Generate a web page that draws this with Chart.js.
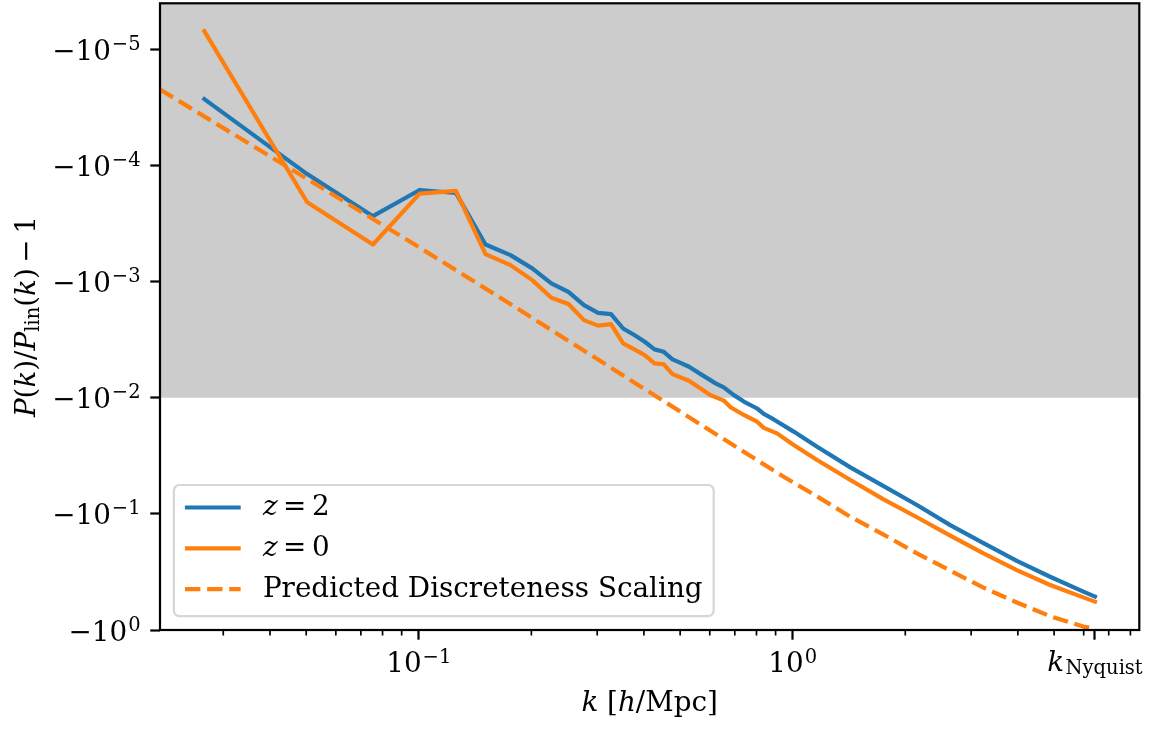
<!DOCTYPE html>
<html><head><meta charset="utf-8">
<script src="https://cdn.jsdelivr.net/npm/chart.js@4.4.1/dist/chart.umd.min.js"></script>
<style>html,body{margin:0;padding:0;background:#fff;overflow:hidden}canvas{display:block}</style>
</head><body>
<canvas id="c" width="1153" height="729" style="width:1153px;height:729px"></canvas>
<script>
// ---------------- data ----------------
const kZ2 = [0.0267,0.0503,0.0754,0.1005,0.1257,0.1508,0.1759,0.2011,0.2262,0.2513,0.2765,0.3016,0.3267,0.3519,0.377,0.402,0.427,0.452,0.477,0.503,0.528,0.573,0.622,0.654,0.696,0.740,0.803,0.837,0.890,1.006,1.162,1.426,1.750,2.149,2.638,3.237,3.975,4.879,5.987,6.43];
const ratioZ2 = [-2.69e-5,-1.19e-4,-2.74e-4,-1.63e-4,-1.73e-4,-4.80e-4,-5.93e-4,-7.71e-4,-1.04e-3,-1.23e-3,-1.60e-3,-1.86e-3,-1.91e-3,-2.54e-3,-2.89e-3,-3.30e-3,-3.84e-3,-4.03e-3,-4.68e-3,-5.04e-3,-5.42e-3,-6.40e-3,-7.53e-3,-8.15e-3,-9.51e-3,-1.08e-2,-1.24e-2,-1.38e-2,-1.54e-2,-1.96e-2,-2.65e-2,-3.98e-2,-5.77e-2,-8.39e-2,-0.125,-0.179,-0.254,-0.348,-0.468,-0.516];

const kZ0 = [0.0267,0.0503,0.0754,0.1005,0.1257,0.1508,0.1759,0.2011,0.2262,0.2513,0.2765,0.3016,0.3267,0.3519,0.377,0.402,0.427,0.452,0.477,0.528,0.603,0.654,0.682,0.740,0.803,0.837,0.908,1.006,1.162,1.426,1.750,2.149,2.638,3.237,3.975,4.879,5.987,6.43];
const ratioZ0 = [-7.00e-6,-2.08e-4,-4.80e-4,-1.75e-4,-1.66e-4,-5.81e-4,-7.23e-4,-9.73e-4,-1.38e-3,-1.56e-3,-2.15e-3,-2.40e-3,-2.33e-3,-3.41e-3,-3.84e-3,-4.30e-3,-5.07e-3,-5.16e-3,-6.27e-3,-7.16e-3,-9.51e-3,-1.06e-2,-1.21e-2,-1.41e-2,-1.61e-2,-1.82e-2,-2.03e-2,-2.56e-2,-3.44e-2,-5.12e-2,-7.50e-2,-0.107,-0.154,-0.219,-0.305,-0.410,-0.524,-0.570];

const kPred = [0.0203,0.0896,0.164,0.771,0.946,1.162,1.426,1.750,2.149,2.638,3.237,3.975,4.879,5.987,6.43];
const ratioPred = [-2.22e-5,-4.06e-4,-1.36e-3,-3.18e-2,-4.80e-2,-7.08e-2,-0.106,-0.151,-0.219,-0.308,-0.432,-0.580,-0.760,-0.935,-0.973];

const seriesLabels = ['z = 2', 'z = 0', 'Predicted Discreteness Scaling'];
const shadeLevel = -1e-2;            // shaded band: from the top of the axis down to -10^-2
const kNyquist = 6.43;
const xRange = [0.02032, 8.45];
const yRange = [-4.03e-6, -1];       // top, bottom of the (negative) y axis
const yTickValues = [-1e-5, -1e-4, -1e-3, -1e-2, -1e-1, -1e0];
const yTickExponents = [-5, -4, -3, -2, -1, 0];
const xMajorTicks = [0.1, 1, kNyquist];
const xMajorLabels = ['10^-1', '10^0', 'k_Nyquist'];
const xMinorTicks = [0.03,0.04,0.05,0.06,0.07,0.08,0.09,0.2,0.3,0.4,0.5,0.6,0.7,0.8,0.9,2,3,4,5,6,7,8];

// ---------------- styling ----------------
const BLUE = '#1f77b4', ORANGE = '#ff7f0e';
const FS = 27.8, SFS = 19.5;
const SERIF = '"DejaVu Serif", "Liberation Serif", serif';
const LW = 4.2;
function font(sz, it){ return (it ? 'italic ' : '') + sz + 'px ' + SERIF; }
function richWidth(ctx, parts){
  let w = 0;
  for (const p of parts){ ctx.font = font(p.s || FS, p.i); w += ctx.measureText(p.t).width + (p.gap || 0); }
  return w;
}
function drawRich(ctx, parts, x, y, align){
  const w = richWidth(ctx, parts);
  let cx = align === 'right' ? x - w : (align === 'center' ? x - w / 2 : x);
  ctx.textAlign = 'left'; ctx.textBaseline = 'alphabetic';
  for (const p of parts){
    ctx.font = font(p.s || FS, p.i);
    ctx.fillText(p.t, cx, y + (p.dy || 0));
    cx += ctx.measureText(p.t).width + (p.gap || 0);
  }
  return w;
}
function supStr(e){ return e < 0 ? '\u2212' + (-e) : String(e); }
function xLabelParts(s){
  if (s.startsWith('10^')) return [{t:'10', gap:1},{t:supStr(parseInt(s.slice(3))), s:SFS, dy:-9.5}];
  if (s.startsWith('k_')) return [{t:'k', i:true, gap:1.5},{t:s.slice(2), s:SFS, dy:3}];
  return [{t:s}];
}
function legendParts(s){
  const m = s.match(/^z = (.*)$/);
  if (m) return [{t:'z', i:true},{t:'\u2009=\u2009'},{t:m[1]}];
  return [{t:s}];
}
const mag = v => -v;

const decor = {
  id: 'decor',
  afterDraw(chart){
    const ctx = chart.ctx, a = chart.chartArea;
    const xs = chart.scales.x, ys = chart.scales.y;
    ctx.save();
    // frame (spines)
    ctx.strokeStyle = '#000'; ctx.lineWidth = 2.2;
    ctx.strokeRect(a.left, a.top, a.right - a.left, a.bottom - a.top);
    // minor x ticks
    ctx.lineWidth = 1.67;
    ctx.beginPath();
    for (const v of xMinorTicks){
      if (v < xRange[0] || v > xRange[1]) continue;
      const px = xs.getPixelForValue(v);
      ctx.moveTo(px, a.bottom); ctx.lineTo(px, a.bottom + 5.6);
    }
    ctx.stroke();
    ctx.fillStyle = '#000';
    // y tick labels
    yTickValues.forEach((v, i) => {
      const py = ys.getPixelForValue(mag(v));
      drawRich(ctx, [{t:'\u221210', gap:1},{t:supStr(yTickExponents[i]), s:SFS, dy:-10}], a.left - 19.4, py + 10.5, 'right');
    });
    // x tick labels
    xMajorTicks.forEach((v, i) => {
      const px = xs.getPixelForValue(v);
      const lab = xMajorLabels[i];
      drawRich(ctx, xLabelParts(lab), px, lab.startsWith('k_') ? a.bottom + 40.5 : a.bottom + 42, 'center');
    });
    // axis titles
    drawRich(ctx, [{t:'k', i:true},{t:' ['},{t:'h', i:true},{t:'/Mpc]'}], (a.left + a.right) / 2, 711, 'center');
    ctx.save();
    ctx.translate(35, (a.top + a.bottom) / 2);
    ctx.rotate(-Math.PI / 2);
    drawRich(ctx, [{t:'P', i:true},{t:'('},{t:'k', i:true},{t:')/'},{t:'P', i:true},{t:'lin', s:SFS, dy:4},{t:'('},{t:'k', i:true},{t:')\u2009\u2212\u20091'}], 0, 0, 'center');
    ctx.restore();
    // legend
    const items = chart.data.datasets.filter(d => d.inLegend);
    const left = a.left + 13.9, bottom = a.bottom - 13.9;
    let maxW = 0;
    items.forEach(d => { maxW = Math.max(maxW, richWidth(ctx, legendParts(d.label))); });
    const top = bottom - 131.1, right = left + 89 + maxW + 11.1;
    const r = 5.6;
    ctx.beginPath();
    ctx.moveTo(left + r, top);
    ctx.arcTo(right, top, right, bottom, r);
    ctx.arcTo(right, bottom, left, bottom, r);
    ctx.arcTo(left, bottom, left, top, r);
    ctx.arcTo(left, top, right, top, r);
    ctx.closePath();
    ctx.fillStyle = 'rgba(255,255,255,0.8)'; ctx.fill();
    ctx.strokeStyle = 'rgba(204,204,204,0.8)'; ctx.lineWidth = 2.2; ctx.stroke();
    items.forEach((d, i) => {
      const base = bottom - 19.4 - (items.length - 1 - i) * 40.8;
      const hy = base - 7.6;
      ctx.beginPath();
      ctx.strokeStyle = d.borderColor; ctx.lineWidth = d.borderWidth;
      ctx.setLineDash(d.borderDash || []);
      ctx.lineCap = d.borderDash ? 'butt' : 'square';
      ctx.moveTo(left + 11.1 + (d.borderDash ? 0 : 2), hy); ctx.lineTo(left + 66.7 - (d.borderDash ? 0 : 2), hy);
      ctx.stroke();
      ctx.setLineDash([]);
      ctx.fillStyle = '#000';
      drawRich(ctx, legendParts(d.label), left + 89, base, 'left');
    });
    ctx.restore();
  }
};

const cfg = {
  type: 'scatter',
  data: {
    datasets: [
      { label: 'shade', data: [{x: xRange[0], y: mag(shadeLevel)}, {x: xRange[1], y: mag(shadeLevel)}],
        showLine: true, borderWidth: 0, pointRadius: 0, backgroundColor: '#cccccc',
        fill: {value: mag(yRange[0])}, order: 4, clip: 0 },
      { label: seriesLabels[0], inLegend: true, data: kZ2.map((k, i) => ({x: k, y: mag(ratioZ2[i])})),
        showLine: true, borderColor: BLUE, borderWidth: LW, pointRadius: 0, borderJoinStyle: 'round', borderCapStyle: 'square', order: 3, fill: false },
      { label: seriesLabels[1], inLegend: true, data: kZ0.map((k, i) => ({x: k, y: mag(ratioZ0[i])})),
        showLine: true, borderColor: ORANGE, borderWidth: LW, pointRadius: 0, borderJoinStyle: 'round', borderCapStyle: 'square', order: 2, fill: false },
      { label: seriesLabels[2], inLegend: true, data: kPred.map((k, i) => ({x: k, y: mag(ratioPred[i])})),
        showLine: true, borderColor: ORANGE, borderWidth: LW, borderDash: [15.4, 6.7], pointRadius: 0, borderJoinStyle: 'round', borderCapStyle: 'butt', order: 1, fill: false }
    ]
  },
  options: {
    responsive: false, maintainAspectRatio: false, animation: false, devicePixelRatio: 1,
    layout: { padding: { left: 0, right: 13.7, top: 3.3, bottom: 0 } },
    plugins: { legend: { display: false }, tooltip: { enabled: false } },
    scales: {
      x: {
        type: 'logarithmic', min: xRange[0], max: xRange[1], bounds: 'data', position: 'bottom',
        border: { display: false },
        grid: { drawOnChartArea: false, drawTicks: true, tickLength: 9.7, tickWidth: 2.2, tickColor: '#000' },
        ticks: { display: false },
        afterBuildTicks: s => { s.ticks = xMajorTicks.map(v => ({value: v})); },
        afterFit: s => { s.height = 99; }
      },
      y: {
        type: 'logarithmic', min: mag(yRange[0]), max: mag(yRange[1]), reverse: true, bounds: 'data', position: 'left',
        border: { display: false },
        grid: { drawOnChartArea: false, drawTicks: true, tickLength: 9.7, tickWidth: 2.2, tickColor: '#000' },
        ticks: { display: false },
        afterBuildTicks: s => { s.ticks = yTickValues.map(v => ({value: mag(v)})); },
        afterFit: s => { s.width = 160; }
      }
    }
  },
  plugins: [decor]
};
new Chart(document.getElementById('c'), cfg);
</script>
</body></html>
